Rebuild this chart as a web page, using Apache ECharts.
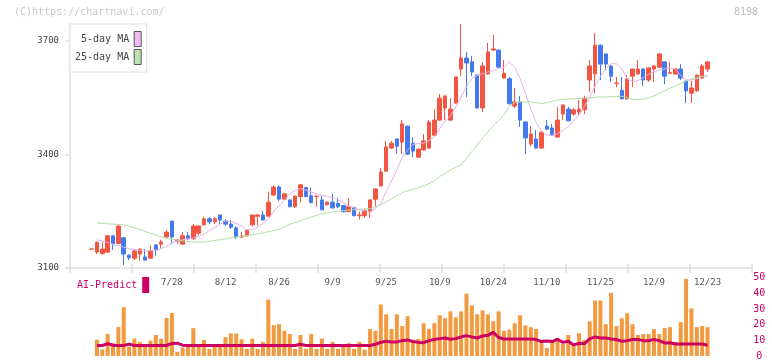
<!DOCTYPE html>
<html>
<head>
<meta charset="utf-8">
<script src="https://cdn.jsdelivr.net/npm/echarts@6/dist/echarts.min.js"></script>
<style>html,body{margin:0;padding:0;background:#fff;}#c{width:772px;height:361px;}</style>
</head>
<body>
<div id="c"></div>
<script>
var dates = ['7/4','7/7','7/8','7/9','7/10','7/11','7/14','7/15','7/16','7/17','7/18','7/22','7/23','7/24','7/25','7/28','7/29','7/30','7/31',
'8/1','8/4','8/5','8/6','8/7','8/8','8/12','8/13','8/14','8/15','8/18','8/19','8/20','8/21','8/22','8/25','8/26','8/27','8/28','8/29',
'9/1','9/2','9/3','9/4','9/5','9/8','9/9','9/10','9/11','9/12','9/16','9/17','9/18','9/19','9/22','9/24','9/25','9/26','9/29','9/30',
'10/1','10/2','10/3','10/6','10/7','10/8','10/9','10/10','10/14','10/15','10/16','10/17','10/20','10/21','10/22','10/23','10/24','10/27','10/28','10/29','10/30','10/31',
'11/4','11/5','11/6','11/7','11/10','11/11','11/12','11/13','11/14','11/17','11/18','11/19','11/20','11/21','11/25','11/26','11/27','11/28',
'12/1','12/2','12/3','12/4','12/5','12/8','12/9','12/10','12/11','12/12','12/15','12/16','12/17','12/18','12/19','12/22','12/23'];
var opens = [3150,3142,3138,3142,3185,3165,3180,3134,3126,3137,3129,3126,3161,3163,3182,3224,3171,3163,3185,3177,3192,3214,3230,3222,3240,3224,3216,3206,3182,3185,3214,3237,3240,3237,3293,3314,3282,3280,3262,3289,3313,3291,3289,3280,3267,3274,3271,3265,3249,3260,3238,3238,3249,3282,3317,3356,3417,3441,3433,3475,3430,3393,3412,3417,3451,3491,3523,3491,3536,3626,3655,3645,3610,3523,3613,3676,3676,3602,3600,3528,3539,3486,3428,3441,3417,3475,3470,3446,3507,3520,3507,3512,3518,3597,3613,3689,3666,3634,3588,3570,3547,3607,3613,3626,3597,3626,3631,3645,3615,3613,3626,3594,3562,3568,3602,3626];
var closes = [3150,3168,3150,3185,3165,3211,3137,3127,3145,3150,3121,3145,3148,3169,3195,3182,3174,3185,3177,3211,3211,3230,3222,3230,3227,3216,3208,3182,3184,3200,3240,3240,3227,3274,3314,3282,3296,3262,3290,3320,3289,3273,3290,3254,3274,3259,3262,3249,3262,3238,3240,3252,3280,3309,3354,3420,3430,3422,3481,3401,3409,3414,3436,3486,3491,3549,3555,3520,3605,3655,3642,3618,3523,3634,3671,3679,3631,3615,3534,3539,3491,3444,3454,3417,3459,3467,3451,3491,3531,3489,3518,3520,3549,3634,3689,3639,3639,3607,3589,3547,3600,3626,3626,3597,3629,3634,3666,3607,3616,3626,3602,3568,3576,3610,3634,3645];
var lows = [3150,3137,3136,3140,3148,3164,3108,3121,3121,3119,3120,3125,3132,3153,3180,3163,3165,3162,3175,3175,3187,3212,3216,3216,3216,3211,3203,3177,3179,3183,3210,3213,3226,3236,3290,3277,3280,3260,3259,3273,3287,3271,3262,3252,3265,3257,3258,3247,3248,3237,3228,3233,3233,3262,3315,3355,3415,3402,3402,3399,3393,3391,3410,3415,3449,3489,3491,3489,3534,3607,3552,3607,3521,3512,3611,3674,3629,3601,3532,3523,3473,3401,3422,3416,3416,3465,3449,3445,3491,3488,3502,3502,3507,3565,3562,3597,3623,3592,3578,3546,3545,3578,3611,3581,3592,3592,3630,3586,3613,3611,3597,3536,3536,3567,3600,3618];
var highs = [3150,3170,3168,3187,3186,3212,3181,3136,3150,3152,3150,3160,3162,3175,3200,3225,3177,3195,3195,3216,3213,3235,3235,3235,3241,3229,3227,3211,3195,3203,3241,3242,3251,3301,3318,3319,3298,3282,3291,3321,3314,3313,3291,3290,3276,3296,3285,3266,3285,3262,3249,3257,3281,3310,3364,3436,3436,3443,3491,3477,3446,3416,3454,3491,3520,3560,3556,3549,3606,3745,3671,3660,3611,3645,3695,3716,3678,3650,3605,3576,3555,3487,3475,3465,3461,3491,3481,3525,3532,3526,3523,3544,3555,3650,3721,3690,3667,3635,3605,3605,3610,3627,3650,3628,3630,3636,3667,3646,3645,3628,3639,3596,3594,3611,3639,3646];
var ma5 = ['-',3175,3171,3167,3163,3159,3155,3151,3149,3147,3145,3146,3147,3151,3158,3166,3171,3175,3177,3179,3184,3190,3199,3207,3215,3224,3223,3218,3211,3201,3202,3208,3218,3229,3250,3264,3280,3296,3305,3310,3306,3301,3295,3292,3289,3286,3281,3272,3264,3259,3254,3251,3250,3258,3270,3303,3330,3360,3392,3412,3427,3429,3430,3437,3447,3468,3488,3502,3526,3552,3580,3600,3609,3614,3618,3622,3627,3630,3645,3630,3601,3563,3520,3485,3462,3451,3451,3455,3464,3474,3488,3505,3527,3552,3580,3606,3628,3640,3640,3627,3600,3593,3595,3603,3612,3619,3623,3626,3629,3625,3609,3597,3597,3601,3606,3608];
var ma25 = ['-',3219,3218,3217,3216,3215,3214,3210,3206,3202,3197,3192,3187,3182,3178,3176,3174,3172,3170,3169,3168,3168,3170,3173,3175,3177,3180,3182,3184,3186,3188,3190,3193,3196,3199,3203,3208,3215,3220,3226,3230,3235,3239,3243,3246,3248,3250,3252,3253,3254,3255,3256,3257,3262,3267,3275,3283,3291,3299,3304,3308,3312,3317,3323,3330,3342,3350,3359,3366,3372,3390,3408,3425,3443,3460,3476,3490,3505,3527,3537,3539,3539,3539,3537,3535,3537,3541,3544,3546,3547,3547,3548,3549,3550,3551,3552,3552,3553,3553,3554,3550,3546,3546,3546,3549,3555,3561,3568,3575,3582,3588,3594,3599,3603,3606,3609];
var volumes = ['-',10.4,4.2,14.0,8.2,18.6,31.2,6.0,11.1,9.0,6.7,9.8,13.4,11.1,24.3,27.4,2.7,5.4,7.1,17.8,5.8,10.3,4.6,6.3,6.3,12.1,14.4,14.4,10.7,4.6,11.1,4.6,9.0,36.0,19.7,20.3,16.1,14.0,4.6,13.4,4.6,14.0,4.6,11.1,4.6,9.0,4.6,6.5,8.2,4.6,9.0,4.0,17.2,16.1,32.9,26.6,17.2,26.6,19.1,25.4,10.3,10.9,20.9,17.2,20.9,26.0,24.1,28.5,24.7,28.5,39.8,32.3,26.6,29.1,26.6,22.2,28.5,16.1,16.8,20.9,26.0,19.6,18.4,17.2,10.3,5.2,10.3,10.9,7.7,13.4,6.5,14.6,10.3,22.2,35.4,35.4,20.3,40.4,19.1,24.1,27.3,20.3,13.4,14.0,14.0,17.2,14.0,17.8,18.4,9.0,21.6,49.2,30.4,18.4,19.1,18.4];
var aiPredict = ['-',6.7,6.7,7.8,6.9,6.7,6.7,7.6,6.7,6.7,6.7,6.7,6.7,6.7,6.7,8.0,8.2,6.9,6.7,6.7,6.7,6.7,6.7,6.7,6.7,6.7,6.7,6.7,6.7,6.7,6.7,6.7,6.7,6.7,6.7,6.7,6.7,6.7,6.7,7.5,6.7,6.7,6.7,6.7,6.7,6.7,6.7,6.7,6.7,6.7,6.7,6.7,6.7,7.5,8.7,9.4,9.0,9.0,9.8,10.2,9.2,8.7,8.5,9.8,10.5,11.1,11.5,10.7,11.1,12.2,13.0,12.2,11.5,12.8,13.2,15.1,11.8,10.9,10.9,10.9,10.9,10.9,10.9,10.5,9.2,9.6,9.2,10.7,8.7,9.4,7.1,8.1,7.9,10.9,12.2,11.5,11.5,10.9,10.5,9.4,9.8,10.5,10.5,9.8,9.8,10.5,9.8,8.3,8.5,7.7,7.7,7.7,7.7,7.7,7.7,6.9];
var labelDates = ['7/28','8/12','8/26','9/9','9/25','10/9','10/24','11/10','11/25','12/9','12/23'];
var yTicks = [3100, 3400, 3700];
var volTicks = [0, 10, 20, 30, 40, 50];
var frameTicks = [0,1,2,3,4,5,6,7,8,9,10,11];

var MONO = '"DejaVu Sans Mono", "Liberation Mono", monospace';
var candleData = dates.map(function (d, i) { return [opens[i], closes[i], lows[i], highs[i]]; });
var PLOT_L = 88.9, PLOT_W = 621.3;
function plain(v) { return String(v); }

var chart = echarts.init(document.getElementById('c'), null, {renderer: 'canvas', width: 772, height: 361});
chart.setOption({
  animation: false,
  backgroundColor: '#fff',
  graphic: [
    {type: 'text', left: 14, top: 7, style: {text: '(C)https://chartnavi.com/', font: '10px ' + MONO, fill: '#c8c8c8'}},
    {type: 'text', right: 14, top: 7, style: {text: '8198', font: '10px ' + MONO, fill: '#bbbbbb'}}
  ],
  legend: [
    {
      left: 70, top: 24, orient: 'vertical', align: 'right',
      padding: [7, 5, 7, 5], itemGap: 2, itemWidth: 7, itemHeight: 15,
      backgroundColor: '#fff', borderColor: '#e0e0e0', borderWidth: 1,
      selectedMode: false,
      textStyle: {fontFamily: MONO, fontSize: 10, color: '#444'},
      data: [
        {name: '5-day MA', icon: 'rect', itemStyle: {color: '#f0bcf0', borderColor: '#555', borderWidth: 1}},
        {name: '25-day MA', icon: 'rect', itemStyle: {color: '#bde0b2', borderColor: '#555', borderWidth: 1}}
      ]
    },
    {
      left: 77, top: 277, orient: 'vertical', align: 'right',
      padding: 0, itemWidth: 7, itemHeight: 16,
      selectedMode: false,
      textStyle: {fontFamily: MONO, fontSize: 10, color: '#cc0066'},
      data: [{name: 'AI-Predict', icon: 'rect', itemStyle: {color: '#cc0066', borderWidth: 0}}]
    }
  ],
  grid: [
    {left: 70, right: 20, top: 24, bottom: 93},
    {left: PLOT_L, width: PLOT_W, top: 24, bottom: 93},
    {left: PLOT_L, width: PLOT_W, top: 277.7, bottom: 3.7}
  ],
  xAxis: [
    {gridIndex: 0, type: 'value', min: 0, max: 11, interval: 1,
     axisLine: {show: true, lineStyle: {color: '#dedede', width: 1.5}},
     axisTick: {show: true, length: 5, customValues: frameTicks, lineStyle: {color: '#dedede', width: 1.5}},
     axisLabel: {show: false}, splitLine: {show: false}},
    {gridIndex: 0, type: 'value', min: 0, max: 11, interval: 1, position: 'bottom',
     axisLine: {show: false},
     axisTick: {show: true, inside: true, length: 4, customValues: frameTicks, lineStyle: {color: '#dedede', width: 1.5}},
     axisLabel: {show: false}, splitLine: {show: false}},
    {gridIndex: 1, type: 'category', data: dates, boundaryGap: true,
     axisLine: {show: false}, axisTick: {show: false}, splitLine: {show: false},
     axisLabel: {
       interval: function (idx, val) { return labelDates.indexOf(val) >= 0; },
       fontFamily: MONO, fontSize: 9, color: '#555', margin: 10
     }},
    {gridIndex: 2, type: 'category', data: dates, boundaryGap: true, show: false}
  ],
  yAxis: [
    {gridIndex: 0, type: 'value', min: 3100, max: 3745,
     axisLine: {show: true, lineStyle: {color: '#dedede', width: 1.5}},
     axisTick: {show: true, length: 5, customValues: yTicks, lineStyle: {color: '#dedede', width: 1.5}},
     axisLabel: {customValues: yTicks, formatter: plain, fontFamily: MONO, fontSize: 9, color: '#444', margin: 11},
     splitLine: {show: false}},
    {gridIndex: 1, type: 'value', min: 3100, max: 3745, show: false},
    {gridIndex: 2, type: 'value', min: 0, max: 50, position: 'right',
     axisLine: {show: false}, axisTick: {show: false}, splitLine: {show: false},
     axisLabel: {customValues: volTicks, formatter: plain, align: 'center', margin: 49, fontFamily: MONO, fontSize: 10, color: '#cc0066'}}
  ],
  series: [
    {name: 'price', type: 'candlestick', xAxisIndex: 2, yAxisIndex: 1, data: candleData, barWidth: 4,
     itemStyle: {color: '#f25542', color0: '#4479ee', borderColor: '#f25542', borderColor0: '#4479ee', borderWidth: 1}},
    {name: '5-day MA', type: 'line', xAxisIndex: 2, yAxisIndex: 1, data: ma5, symbol: 'none', smooth: false,
     itemStyle: {color: '#f0bcf0'}, lineStyle: {color: '#e8b0e8', width: 1}},
    {name: '25-day MA', type: 'line', xAxisIndex: 2, yAxisIndex: 1, data: ma25, symbol: 'none',
     itemStyle: {color: '#bde0b2'}, lineStyle: {color: '#b4dca6', width: 1}},
    {name: 'volume', type: 'bar', xAxisIndex: 3, yAxisIndex: 2, data: volumes, barWidth: 4,
     itemStyle: {color: '#f29a40'}},
    {name: 'AI-Predict', type: 'line', xAxisIndex: 3, yAxisIndex: 2, data: aiPredict, symbol: 'none',
     itemStyle: {color: '#cc0066'}, lineStyle: {color: '#cc0060', width: 3}}
  ]
});
</script>
</body>
</html>
